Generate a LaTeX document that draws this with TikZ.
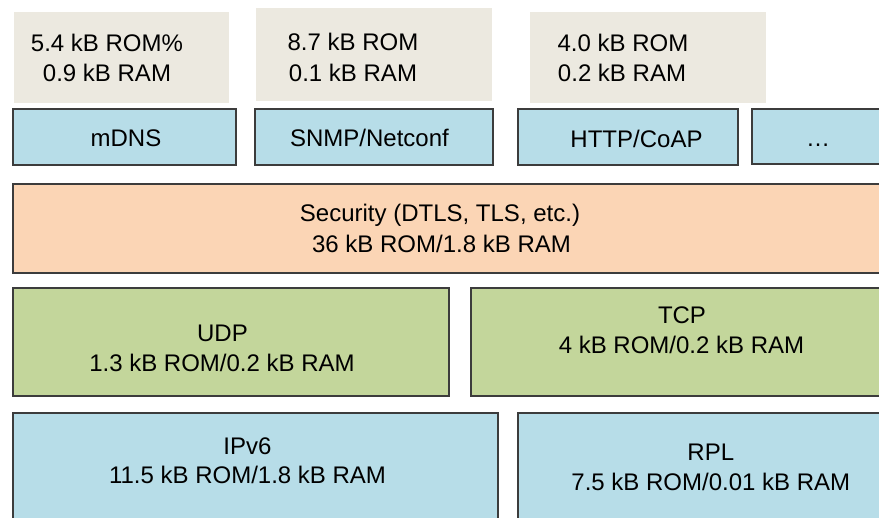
\documentclass[tikz,border=0pt]{standalone}
\usepackage{fontspec}
\setmainfont{Liberation Sans}
\usetikzlibrary{fit}
\definecolor{memgrey}{HTML}{ECE9E0}
\definecolor{appblue}{HTML}{B7DDE8}
\definecolor{secpeach}{HTML}{FBD5B5}
\definecolor{tpgreen}{HTML}{C3D69B}
\definecolor{edgegrey}{HTML}{3C3C3C}
\begin{document}
\begin{tikzpicture}[x=1pt,y=-1pt,
  block/.style={draw=edgegrey, line width=1.8pt, inner sep=0pt},
  memblock/.style={fill=memgrey, inner sep=0pt},
  lbl/.style={anchor=base, inner sep=0pt, text=black,
    font=\fontsize{24}{30}\selectfont}]
\useasboundingbox (0,0) rectangle (879,518);
\clip (0,0) rectangle (879,518);
\fill[white] (0,0) rectangle (879,518);

% memory footprint panels
\node[memblock, fit={(14,12) (229,103)}] (memA) {};
\node[memblock, fit={(256,8) (492,101)}] (memB) {};
\node[memblock, fit={(530,12) (766,103)}] (memC) {};
\node[lbl] (memA1) at (107,51.7) {5.4 kB ROM\%};
\node[lbl] (memA2) at (107,81.7) {0.9 kB RAM};
\node[lbl] (memB1) at (353,51) {8.7 kB ROM};
\node[lbl] (memB2) at (353,82) {0.1 kB RAM};
\node[lbl] (memC1) at (623,51.5) {4.0 kB ROM};
\node[lbl] (memC2) at (622,82) {0.2 kB RAM};

% application layer
\node[block, fill=appblue, fit={(13,109) (236,165)}] (mdns) {};
\node[block, fill=appblue, fit={(255,109) (493,165)}] (snmp) {};
\node[block, fill=appblue, fit={(518,109) (738,165)}] (http) {};
\node[block, fill=appblue, fit={(752,109) (900,164)}] (more) {};
\node[lbl] (mdnsT) at (126,146.7) {mDNS};
\node[lbl] (snmpT) at (369.5,146.7) {SNMP/Netconf};
\node[lbl] (httpT) at (636.5,147.5) {HTTP/CoAP};
\node[lbl] (moreT) at (818,147) {…};

% security layer
\node[block, fill=secpeach, fit={(13,184) (900,273)}] (sec) {};
\node[lbl] (sec1) at (440,221.5) {Security (DTLS, TLS, etc.)};
\node[lbl] (sec2) at (441.5,252.5) {36 kB ROM/1.8 kB RAM};

% transport layer
\node[block, fill=tpgreen, fit={(13,288) (449,396)}] (udp) {};
\node[block, fill=tpgreen, fit={(471,288) (900,396)}] (tcp) {};
\node[lbl] (udp1) at (222.5,341.7) {UDP};
\node[lbl] (udp2) at (222,371.7) {1.3 kB ROM/0.2 kB RAM};
\node[lbl] (tcp1) at (682,324) {TCP};
\node[lbl] (tcp2) at (681.5,353.3) {4 kB ROM/0.2 kB RAM};

% network layer
\node[block, fill=appblue, fit={(13,413) (498,535)}] (ipv6) {};
\node[block, fill=appblue, fit={(518,413) (900,535)}] (rpl) {};
\node[lbl] (ipv61) at (247.5,455) {IPv6};
\node[lbl] (ipv62) at (247.5,483.3) {11.5 kB ROM/1.8 kB RAM};
\node[lbl] (rpl1) at (710.8,461) {RPL};
\node[lbl] (rpl2) at (710.8,490.7) {7.5 kB ROM/0.01 kB RAM};
\end{tikzpicture}
\end{document}
